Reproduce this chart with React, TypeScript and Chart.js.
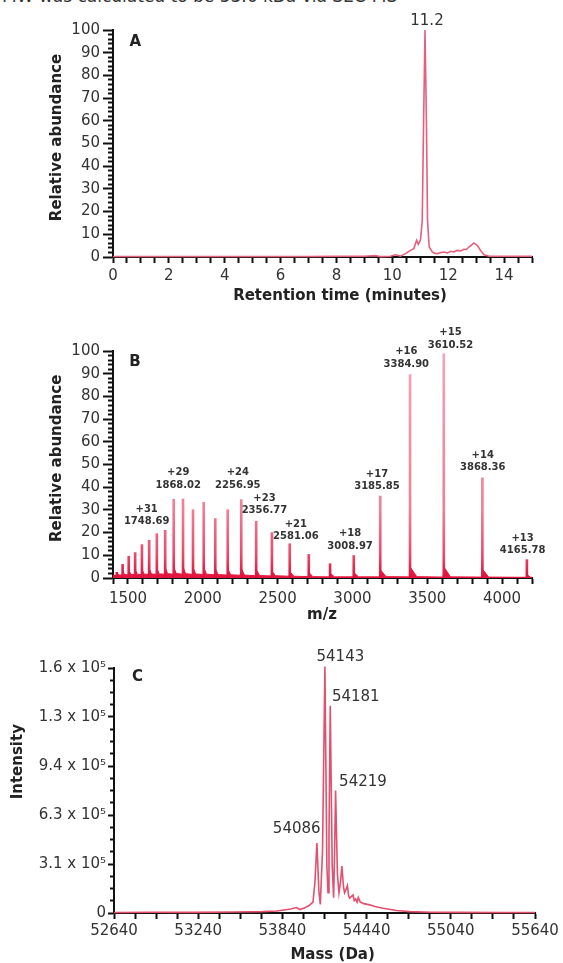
import React, { useEffect, useRef } from 'react';
import { Chart, registerables } from 'chart.js';

Chart.register(...registerables);

const FONT = "'DejaVu Sans', Verdana, sans-serif";
const INK = '#333333';
const AXIS = '#111111';

function steps(a: number, b: number, s: number): number[] {
  const out: number[] = [];
  const n = Math.round((b - a) / s);
  for (let i = 0; i <= n; i++) out.push(Math.round((a + i * s) * 1000) / 1000);
  return out;
}

// ---------------- Panel A : chromatogram ----------------
const timeA = [0, 1, 2, 3, 4, 5, 6, 7, 8, 9.0, 9.4, 9.58, 9.93, 10.11, 10.29, 10.47, 10.65, 10.77, 10.87, 10.93, 11.01, 11.07, 11.12, 11.17, 11.22, 11.26, 11.32, 11.43, 11.52, 11.61, 11.72, 11.85, 11.97, 12.09, 12.2, 12.32, 12.45, 12.56, 12.65, 12.74, 12.85, 12.92, 13.04, 13.16, 13.28, 13.46, 14.0, 14.5, 15];
const abundA = [0.2, 0.2, 0.2, 0.2, 0.2, 0.2, 0.2, 0.2, 0.3, 0.3, 0.6, 0.15, 0.3, 1.0, 0.4, 1.5, 2.9, 3.7, 7.4, 5.6, 7.6, 16, 60, 100, 60, 16, 4.4, 2.2, 1.6, 1.5, 1.9, 2.2, 1.8, 2.5, 2.2, 2.9, 2.7, 3.4, 3.3, 4.4, 5.4, 6.2, 5.1, 2.9, 1.0, 0.3, 0.3, 0.3, 0.3];
const xTicksA = steps(0, 15, 0.5);
const xTickLabelsA = [0, 2, 4, 6, 8, 10, 12, 14];
const yTicksA = steps(0, 100, 2);
const yTickLabelsA = [0, 10, 20, 30, 40, 50, 60, 70, 80, 90, 100];
const peakLabelA = '11.2';
const peakLabelPosA = { x: 11.24, y: 104 };

// ---------------- Panel B : mass spectrum (m/z) ----------------
const mzB = [1426, 1464.3, 1505, 1548, 1593.4, 1641.7, 1693, 1748.69, 1805.8, 1868.02, 1934.7, 2006.3, 2083.4, 2166.7, 2256.95, 2356.77, 2462, 2581.06, 2708.2, 2850.6, 3008.97, 3185.85, 3384.9, 3610.52, 3868.36, 4165.78];
const heightB = [2.5, 6.0, 9.6, 11.2, 14.7, 16.6, 19.5, 21.0, 34.7, 34.8, 30.1, 33.3, 26.2, 30.1, 34.5, 25.0, 20.0, 15.1, 10.4, 6.3, 9.9, 36.1, 89.6, 98.8, 44.1, 8.1];
const grassMzB = [1400,
  1423, 1427, 1440, 1461, 1465, 1478, 1502, 1506, 1519, 1545, 1549, 1562,
  1590, 1594, 1608, 1638, 1643, 1657, 1690, 1694, 1708, 1745, 1750, 1765,
  1802, 1807, 1822, 1865, 1869, 1885, 1931, 1936, 1952, 2003, 2008, 2024,
  2080, 2085, 2102, 2163, 2168, 2186, 2253, 2258, 2278, 2353, 2358, 2380,
  2458, 2463, 2486, 2577, 2582, 2608, 2704, 2709, 2736, 2847, 2852, 2880,
  3005, 3010, 3040, 3182, 3187, 3225, 3381, 3386, 3430, 3607, 3612, 3655,
  3865, 3870, 3910, 4162, 4167, 4190, 4200];
const grassValB = [1.2,
  1.2, 2.2, 1.3, 1.3, 3.0, 1.5, 1.4, 3.4, 1.6, 1.5, 3.6, 1.7,
  1.5, 3.8, 1.7, 1.6, 4.0, 1.8, 1.6, 4.2, 1.8, 1.7, 4.4, 1.9,
  1.7, 4.8, 2.0, 1.7, 4.8, 1.9, 1.6, 4.5, 1.8, 1.5, 4.6, 1.7,
  1.4, 4.0, 1.5, 1.3, 4.0, 1.4, 1.2, 4.2, 1.3, 1.0, 3.6, 1.1,
  0.9, 3.0, 1.0, 0.8, 2.8, 0.8, 0.6, 2.4, 0.6, 0.5, 2.0, 0.5,
  0.5, 2.4, 0.5, 0.5, 3.6, 0.6, 0.5, 4.8, 0.6, 0.4, 4.8, 0.5,
  0.4, 3.8, 0.4, 0.3, 1.5, 0.3, 0.3];
const chargeLabelsB = ['+31', '+29', '+24', '+23', '+21', '+18', '+17', '+16', '+15', '+14', '+13'];
const mzLabelsB = ['1748.69', '1868.02', '2256.95', '2356.77', '2581.06', '3008.97', '3185.85', '3384.90', '3610.52', '3868.36', '4165.78'];
const labelXB = [1625, 1836, 2234, 2412, 2622, 2984, 3164, 3360, 3655, 3871, 4137];
const labelYB = [24.8, 41, 41, 29.6, 18.2, 14.1, 40.2, 94.3, 102.6, 48.8, 12.0];
const xTicksB = steps(1400, 4200, 100);
const xTickLabelsB = [1500, 2000, 2500, 3000, 3500, 4000];
const yTicksB = steps(0, 100, 2);
const yTickLabelsB = [0, 10, 20, 30, 40, 50, 60, 70, 80, 90, 100];

// ---------------- Panel C : deconvoluted mass ----------------
const massC = [52640, 52900, 53200, 53500, 53700, 53800, 53900, 53940, 53965, 54000, 54030, 54058, 54072, 54086, 54100, 54110, 54126, 54143, 54157, 54165, 54172, 54181, 54195, 54205, 54212, 54219, 54232, 54243, 54254, 54264, 54275, 54283, 54293, 54303, 54312, 54319, 54330, 54343, 54352, 54362, 54372, 54381, 54395, 54420, 54462, 54500, 54557, 54600, 54652, 54747, 54900, 55100, 55400, 55640];
const intC = [300, 500, 400, 600, 900, 1300, 2600, 3500, 2200, 3300, 4800, 7000, 20000, 44900, 14000, 5500, 40000, 158000, 30000, 13000, 50000, 132800, 30000, 9800, 40000, 78500, 25000, 13000, 20000, 30000, 17000, 13000, 15000, 17500, 11000, 9500, 10500, 11500, 8000, 9000, 7000, 10000, 7000, 6000, 5200, 4200, 3100, 2400, 1600, 900, 500, 400, 300, 300];
const peakMassLabelsC = ['54143', '54181', '54219', '54086'];
const peakLabelXC = [54253, 54363, 54414, 53942];
const peakLabelYC = [163900, 138600, 84100, 53600];
const xTicksC = steps(52640, 55640, 150);
const xTickLabelsC = [52640, 53240, 53840, 54440, 55040, 55640];
const yTicksC = steps(0, 157000, 7850);
const yMajorC = [0, 31400, 62800, 94200, 125600, 157000];
const yTickTextC = ['0', '3.1 x 10\u2075', '6.3 x 10\u2075', '9.4 x 10\u2075', '1.3 x 10\u2075', '1.6 x 10\u2075'];

// ---------------- helpers ----------------
function findIdx(v: number, vals: number[]): number {
  return vals.findIndex((a) => Math.abs(a - v) < 1e-6 * Math.max(1, Math.abs(a)));
}

type AxisOpts = {
  min: number; max: number; ticks: number[]; majors: number[]; texts?: string[];
  size: number; tl: number; minor?: number; pad: number;
};

function axisX(o: AxisOpts) {
  return {
    type: 'linear', position: 'bottom', min: o.min, max: o.max, offset: false,
    afterBuildTicks: (s: any) => { s.ticks = o.ticks.map((v) => ({ value: v })); },
    afterFit: (s: any) => { s.height = o.size; },
    ticks: {
      autoSkip: false, maxRotation: 0, minRotation: 0, padding: o.pad, color: INK,
      font: { family: FONT, size: 15 },
      callback: (v: number) => { const i = findIdx(v, o.majors); return i < 0 ? '' : (o.texts ? o.texts[i] : String(o.majors[i])); },
    },
    grid: { drawOnChartArea: false, offset: false, tickLength: o.tl, tickWidth: 2, tickColor: AXIS },
    border: { display: true, color: AXIS, width: 2 },
  };
}

function axisY(o: AxisOpts) {
  const minor = o.minor ?? o.tl;
  const isMajor = (ctx: any) => !ctx || !ctx.tick || findIdx(ctx.tick.value, o.majors) >= 0;
  return {
    type: 'linear', position: 'left', min: o.min, max: o.max,
    afterBuildTicks: (s: any) => { s.ticks = o.ticks.map((v) => ({ value: v })); },
    afterFit: (s: any) => { s.width = o.size; },
    ticks: {
      autoSkip: false, padding: o.pad, color: INK, font: { family: FONT, size: 15 },
      callback: (v: number) => { const i = findIdx(v, o.majors); return i < 0 ? '' : (o.texts ? o.texts[i] : String(o.majors[i])); },
    },
    grid: {
      drawOnChartArea: false, tickLength: o.tl, tickWidth: 2, tickColor: AXIS,
      tickBorderDash: (ctx: any) => (isMajor(ctx) ? [] : [minor, o.tl - minor]),
      tickBorderDashOffset: (ctx: any) => (isMajor(ctx) ? 0 : minor),
    },
    border: { display: true, color: AXIS, width: 2 },
  };
}

type TextItem = { text: string | string[]; x: number; y: number; data?: boolean; font: string; color?: string; rotate?: boolean; gap?: number };

function textPlugin(id: string, items: TextItem[]) {
  return {
    id,
    afterDraw(chart: any) {
      const { ctx, scales } = chart;
      items.forEach((it) => {
        let x = it.x;
        let y = it.y;
        if (it.data) { x = scales.x.getPixelForValue(it.x); y = scales.y.getPixelForValue(it.y); }
        ctx.save();
        ctx.font = it.font;
        ctx.fillStyle = it.color || INK;
        ctx.textAlign = 'center';
        ctx.textBaseline = 'middle';
        ctx.translate(x, y);
        if (it.rotate) ctx.rotate(-Math.PI / 2);
        const lines = Array.isArray(it.text) ? it.text : [it.text];
        const gap = it.gap || 12;
        lines.forEach((ln, i) => ctx.fillText(ln, 0, -(lines.length - 1 - i) * gap));
        ctx.restore();
      });
    },
  };
}

const TITLE_FONT = `bold 15px ${FONT}`;
const LETTER_FONT = `bold 15px ${FONT}`;

function baseOptions(padTop: number, padRight: number, x: any, y: any) {
  return {
    responsive: false, maintainAspectRatio: false, animation: false, devicePixelRatio: 1, events: [],
    layout: { padding: { top: padTop, right: padRight, left: 0, bottom: 0 } },
    plugins: { legend: { display: false }, tooltip: { enabled: false }, title: { display: false } },
    elements: { point: { radius: 0 } },
    scales: { x, y },
  };
}

function buildA(): any {
  const data = timeA.map((t, i) => ({ x: t, y: abundA[i] }));
  return {
    type: 'line',
    data: { datasets: [{ data, borderColor: '#e4607c', borderWidth: 1.6, pointRadius: 0, tension: 0, fill: false, clip: false }] },
    options: baseOptions(30, 31,
      axisX({ min: 0, max: 15, ticks: xTicksA, majors: xTickLabelsA, size: 53, tl: 6, pad: 4 }),
      axisY({ min: 0, max: 100, ticks: yTicksA, majors: yTickLabelsA, size: 113, tl: 10, minor: 5, pad: 3 })),
    plugins: [textPlugin('textA', [
      { text: peakLabelA, x: peakLabelPosA.x, y: peakLabelPosA.y, data: true, font: `15px ${FONT}` },
      { text: 'A', x: 135.3, y: 42.3, font: LETTER_FONT, color: '#222' },
      { text: 'Relative abundance', x: 57.5, y: 137.5, rotate: true, font: TITLE_FONT, color: '#222' },
      { text: 'Retention time (minutes)', x: 340, y: 296, font: TITLE_FONT, color: '#222' },
    ])],
  };
}

function buildB(): any {
  const peaks = mzB.map((m, i) => ({ x: m, y: heightB[i] }));
  const grass = grassMzB.map((m, i) => ({ x: m, y: grassValB[i] }));
  const grad = (ctx: any) => {
    const chart = ctx.chart;
    const area = chart.chartArea;
    if (!area) return '#f0849a';
    const g = chart.ctx.createLinearGradient(0, area.bottom, 0, area.top);
    g.addColorStop(0, '#de0f3b');
    g.addColorStop(0.1, '#e94a6a');
    g.addColorStop(0.3, '#ef7f96');
    g.addColorStop(1, '#f3a6b6');
    return g;
  };
  const labels: TextItem[] = chargeLabelsB.map((c, i) => ({
    text: [c, mzLabelsB[i]], x: labelXB[i], y: labelYB[i], data: true, font: `bold 10px ${FONT}`, gap: 12.3,
  }));
  return {
    type: 'bar',
    data: {
      datasets: [
        { type: 'bar', data: peaks, barThickness: 2, backgroundColor: grad, borderWidth: 0, order: 1 },
        { type: 'line', data: grass, borderColor: '#e5173f', borderWidth: 1, backgroundColor: '#e5173f', fill: 'origin', pointRadius: 0, tension: 0, order: 2 },
      ],
    },
    options: baseOptions(41, 31,
      axisX({ min: 1400, max: 4200, ticks: xTicksB, majors: xTickLabelsB, size: 52, tl: 6, pad: 6 }),
      axisY({ min: 0, max: 100, ticks: yTicksB, majors: yTickLabelsB, size: 113, tl: 10, minor: 5, pad: 3 })),
    plugins: [textPlugin('textB', [
      ...labels,
      { text: 'B', x: 135, y: 51.7, font: LETTER_FONT, color: '#222' },
      { text: 'Relative abundance', x: 57.5, y: 148.3, rotate: true, font: TITLE_FONT, color: '#222' },
      { text: 'm/z', x: 322, y: 305, font: TITLE_FONT, color: '#222' },
    ])],
  };
}

function buildC(): any {
  const data = massC.map((m, i) => ({ x: m, y: intC[i] }));
  const labels: TextItem[] = peakMassLabelsC.map((t, i) => ({
    text: t, x: peakLabelXC[i], y: peakLabelYC[i], data: true, font: `15px ${FONT}`,
  }));
  return {
    type: 'line',
    data: { datasets: [{ data, borderColor: '#e2506e', borderWidth: 1.6, pointRadius: 0, tension: 0, fill: false, clip: false }] },
    options: baseOptions(38, 28,
      axisX({ min: 52640, max: 55640, ticks: xTicksC, majors: xTickLabelsC, size: 50, tl: 6, pad: 3 }),
      axisY({ min: 0, max: 157000, ticks: yTicksC, majors: yMajorC, texts: yTickTextC, size: 114, tl: 6, minor: 4, pad: 2 })),
    plugins: [textPlugin('textC', [
      ...labels,
      { text: 'C', x: 137.5, y: 46.7, font: LETTER_FONT, color: '#222' },
      { text: 'Intensity', x: 18.3, y: 131.7, rotate: true, font: TITLE_FONT, color: '#222' },
      { text: 'Mass (Da)', x: 332.6, y: 325, font: TITLE_FONT, color: '#222' },
    ])],
  };
}

function Panel({ top, height, build }: { top: number; height: number; build: () => any }) {
  const ref = useRef<HTMLCanvasElement | null>(null);
  useEffect(() => {
    if (!ref.current) return;
    const chart = new Chart(ref.current, build());
    return () => chart.destroy();
  }, []);
  return (
    <canvas ref={ref} width={563} height={height}
      style={{ position: 'absolute', left: 0, top, width: 563, height, display: 'block' }} />
  );
}

export default function App() {
  return (
    <div style={{ position: 'absolute', left: 0, top: 0, width: 563, height: 963, overflow: 'hidden', background: '#ffffff' }}>
      <div style={{ position: 'absolute', left: 2, top: -12, font: `17px ${FONT}`, lineHeight: '17px', color: '#333', whiteSpace: 'nowrap' }}>
        MW was calculated to be 53.6 kDa via SEC-MS
      </div>
      <Panel top={0} height={310} build={buildA} />
      <Panel top={310} height={320} build={buildB} />
      <Panel top={630} height={333} build={buildC} />
    </div>
  );
}
